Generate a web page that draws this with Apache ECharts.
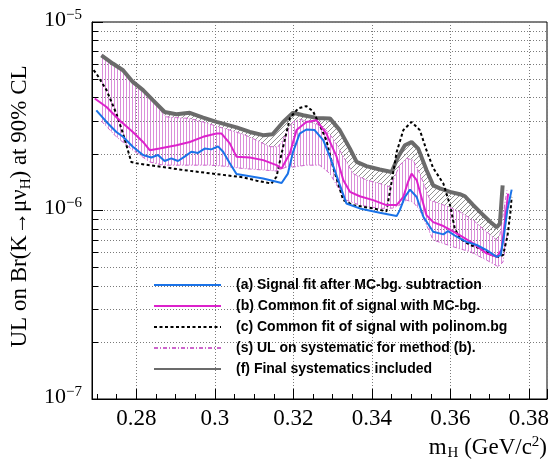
<!DOCTYPE html>
<html>
<head>
<meta charset="utf-8">
<script src="https://cdn.jsdelivr.net/npm/echarts@6/dist/echarts.min.js"></script>
<style>
  html, body { margin: 0; padding: 0; background: #fff; }
  #chart { width: 552px; height: 463px; }
</style>
</head>
<body>
<div id="chart"></div>
<script>
// Upper limits are stored in units of 1e-6.
const UNIT = 1e-6;

// (a) signal fit after MC-bg. subtraction
const aX = [0.2698,0.2724,0.2749,0.2766,0.2791,0.2817,0.2838,0.2855,0.2872,0.2889,0.2906,0.2923,0.2940,0.2957,0.2974,0.2991,0.3008,0.3021,0.3038,0.3055,0.3089,0.3123,0.3170,0.3186,0.3199,0.3216,0.3233,0.3254,0.3276,0.3293,0.3314,0.3335,0.3369,0.3420,0.3463,0.3471,0.3484,0.3497,0.3514,0.3531,0.3556,0.3582,0.3594,0.3616,0.3641,0.3667,0.3692,0.3718,0.3728,0.3736,0.3745,0.3756];
const aY = [3.40,2.95,2.61,2.46,2.18,1.97,1.91,1.97,1.83,1.89,1.83,1.93,2.05,2.02,2.13,2.11,2.19,2.05,1.78,1.56,1.52,1.48,1.40,1.57,2.04,2.56,2.69,2.67,2.36,1.93,1.45,1.09,1.026,0.972,0.934,1.005,1.18,1.29,1.18,0.927,0.771,0.747,0.778,0.726,0.682,0.656,0.617,0.568,0.580,0.726,1.005,1.29];

// (b) common fit of signal with MC-bg.
const bX = [0.2694,0.2724,0.2757,0.2791,0.2817,0.2834,0.2859,0.2902,0.2936,0.2970,0.3004,0.3017,0.3038,0.3055,0.3089,0.3123,0.3157,0.3170,0.3191,0.3208,0.3233,0.3259,0.3284,0.3310,0.3327,0.3344,0.3369,0.3403,0.3437,0.3463,0.3480,0.3492,0.3501,0.3514,0.3526,0.3539,0.3556,0.3582,0.3616,0.3658,0.3692,0.3718,0.3730,0.3739,0.3747];
const bY = [3.93,3.54,3.01,2.61,2.31,2.09,2.13,2.22,2.31,2.46,2.56,2.56,2.27,1.93,1.91,1.85,1.74,1.67,2.01,2.67,2.95,3.01,2.56,1.93,1.45,1.256,1.19,1.135,1.068,1.068,1.18,1.42,1.57,1.45,1.18,0.945,0.868,0.827,0.756,0.669,0.592,0.568,0.617,0.889,1.23];

// (c) common fit of signal with polynomial background
const cX = [0.2691,0.2698,0.2724,0.2749,0.2766,0.2787,0.2800,0.2851,0.2919,0.3004,0.3072,0.3106,0.3144,0.3157,0.3170,0.3191,0.3212,0.3233,0.3250,0.3267,0.3284,0.3301,0.3327,0.3352,0.3403,0.3437,0.3450,0.3463,0.3480,0.3501,0.3522,0.3539,0.3556,0.3582,0.3599,0.3611,0.3624,0.3650,0.3675,0.3705,0.3722,0.3734,0.3745,0.3753,0.3756];
const cY = [5.55,5.33,4.35,3.27,2.56,1.81,1.78,1.72,1.64,1.56,1.50,1.44,1.39,1.51,2.01,3.09,3.48,3.58,3.36,2.84,2.36,1.70,1.135,1.068,1.026,0.990,1.41,2.04,2.67,2.95,2.67,2.09,1.68,1.39,1.068,0.804,0.711,0.656,0.630,0.580,0.568,0.580,0.726,0.984,1.18];

// (s) systematic band for method (b): upper and lower edges
const sUpX = [0.2711,0.2740,0.2766,0.2791,0.2817,0.2842,0.2867,0.2876,0.2902,0.2936,0.2970,0.3004,0.3038,0.3072,0.3106,0.3140,0.3161,0.3173,0.3182,0.3199,0.3216,0.3242,0.3276,0.3301,0.3318,0.3335,0.3352,0.3386,0.3420,0.3446,0.3458,0.3471,0.3488,0.3505,0.3522,0.3548,0.3590,0.3624,0.3658,0.3692,0.3718,0.3726,0.3734,0.3744];
const sUpY = [6.66,6.02,5.55,4.81,4.35,3.85,3.28,3.14,3.11,3.08,2.95,2.80,2.67,2.54,2.36,2.18,2.18,2.36,2.61,2.95,3.05,2.95,2.78,2.41,2.09,1.81,1.57,1.45,1.39,1.335,1.51,1.74,1.89,1.85,1.57,1.135,1.055,0.984,0.889,0.771,0.697,0.741,0.945,1.28];
const sLoX = [0.2711,0.2749,0.2791,0.2834,0.2868,0.2936,0.2987,0.3021,0.3072,0.3123,0.3157,0.3182,0.3199,0.3233,0.3267,0.3293,0.3318,0.3335,0.3369,0.3420,0.3453,0.3471,0.3488,0.3505,0.3522,0.3556,0.3607,0.3650,0.3692,0.3722,0.3734,0.3744];
const sLoY = [2.98,2.46,2.09,1.81,1.74,1.74,1.74,1.72,1.67,1.64,1.62,1.70,1.70,1.74,1.74,1.57,1.28,1.135,1.068,1.026,1.03,1.068,1.135,1.108,1.005,0.697,0.642,0.604,0.546,0.503,0.533,0.741];

// (f) final limit with systematics included
const fX = [0.2711,0.2740,0.2766,0.2791,0.2817,0.2842,0.2872,0.2902,0.2936,0.2970,0.3004,0.3055,0.3089,0.3123,0.3147,0.3174,0.3199,0.3225,0.3259,0.3293,0.3318,0.3344,0.3361,0.3386,0.3420,0.3450,0.3467,0.3484,0.3501,0.3518,0.3539,0.3556,0.3573,0.3599,0.3624,0.3637,0.3658,0.3679,0.3701,0.3718,0.3726,0.3733];
const fY = [6.66,6.02,5.55,4.81,4.35,3.85,3.33,3.24,3.30,3.11,2.95,2.76,2.61,2.51,2.54,2.95,3.30,3.20,3.10,3.08,2.67,2.13,1.81,1.72,1.65,1.60,1.93,2.22,2.31,2.13,1.64,1.36,1.31,1.256,1.22,1.19,1.068,0.965,0.871,0.814,0.854,1.36];

// log-axis sub-decade grid values
const yMinorTicks = [2e-7,3e-7,4e-7,5e-7,6e-7,7e-7,8e-7,9e-7,2e-6,3e-6,4e-6,5e-6,6e-6,7e-6,8e-6,9e-6];

const X_MIN = 0.2687, X_MAX = 0.3846;
const HATCH_END = 0.3726;

const NAMES = {
  a: '(a) Signal fit after MC-bg. subtraction',
  b: '(b) Common fit of signal with MC-bg.',
  c: '(c) Common fit of signal with polinom.bg',
  s: '(s) UL on systematic for method (b).',
  f: '(f) Final systematics included'
};

function pairs(xs, ys) { return xs.map((x, i) => [x, ys[i] * UNIT]); }

function verticalHatch() {
  const c = document.createElement('canvas');
  c.width = 3; c.height = 6;
  const g = c.getContext('2d');
  g.fillStyle = 'rgba(196,72,196,0.62)';
  g.fillRect(0, 0, 1, 6);
  return c;
}
function diagonalHatch() {
  const c = document.createElement('canvas');
  c.width = 5; c.height = 5;
  const g = c.getContext('2d');
  g.strokeStyle = 'rgba(95,95,95,0.85)';
  g.lineWidth = 0.8;
  g.beginPath();
  g.moveTo(-1, 6); g.lineTo(6, -1);
  g.moveTo(-1, 1); g.lineTo(1, -1);
  g.moveTo(4, 6); g.lineTo(6, 4);
  g.stroke();
  return c;
}

// filled region between an upper and a lower edge
function bandSeries(upX, upY, loX, loY, fill, z) {
  return {
    type: 'custom', coordinateSystem: 'cartesian2d', silent: true, z,
    data: [[upX[0], upY[0] * UNIT]], encode: { x: 0, y: 1 },
    renderItem(params, api) {
      const pts = [];
      upX.forEach((x, i) => pts.push(api.coord([x, upY[i] * UNIT])));
      for (let i = loX.length - 1; i >= 0; i--) pts.push(api.coord([loX[i], loY[i] * UNIT]));
      return { type: 'polygon', shape: { points: pts }, style: { fill, stroke: null } };
    }
  };
}

function upTo(xs, ys, xEnd) {
  const ox = [], oy = [];
  xs.forEach((x, i) => { if (x <= xEnd + 1e-9) { ox.push(x); oy.push(ys[i]); } });
  return [ox, oy];
}

const [gUpX, gUpY] = upTo(fX, fY, HATCH_END);
const [gLoX, gLoY] = upTo(sUpX, sUpY, HATCH_END);

const serif = 'Liberation Serif, Times New Roman, serif';
const sans = 'Liberation Sans, Arial, Helvetica, sans-serif';

const chart = echarts.init(document.getElementById('chart'), null, { renderer: 'canvas' });

chart.setOption({
  backgroundColor: '#fff',
  animation: false,
  grid: {
    left: 92, top: 22, width: 455, height: 377,
    show: true, borderColor: '#000', borderWidth: 1, backgroundColor: 'transparent',
    containLabel: false, outerBoundsMode: 'none'
  },
  legend: {
    orient: 'vertical', left: 153, top: 278, padding: 0,
    itemWidth: 67, itemHeight: 14, itemGap: 7,
    selectedMode: false,
    itemStyle: { opacity: 0 },
    data: [NAMES.a, NAMES.b, NAMES.c, NAMES.s, NAMES.f],
    textStyle: { fontFamily: sans, fontWeight: 'bold', fontSize: 14, color: '#000', padding: [0, 0, 0, 10] }
  },
  xAxis: {
    type: 'value', min: X_MIN, max: X_MAX, splitNumber: 5,
    axisLine: { show: true, onZero: false, lineStyle: { color: '#000', width: 1 } },
    axisTick: { show: true, inside: true, length: 10, lineStyle: { color: '#000', width: 1 } },
    minorTick: { show: true, splitNumber: 4, length: 5, lineStyle: { color: '#000', width: 1 } },
    axisLabel: {
      showMinLabel: false, showMaxLabel: false, margin: 8,
      fontFamily: serif, fontSize: 23, color: '#000'
    },
    splitLine: { show: true, lineStyle: { color: '#7a7a7a', width: 1, type: [1, 2] } },
    name: '{t|m}{sub|H}{t| (GeV/c}{sup|2}{t|)}',
    nameLocation: 'end', nameGap: 0,
    nameTextStyle: {
      align: 'right', verticalAlign: 'top', padding: [35, 0, 0, 0],
      rich: {
        t: { fontFamily: serif, fontSize: 23, color: '#000' },
        sub: { fontFamily: serif, fontSize: 15, color: '#000', padding: [12, 0, 0, 1] },
        sup: { fontFamily: serif, fontSize: 15, color: '#000', padding: [0, 0, 10, 0] }
      }
    }
  },
  yAxis: {
    type: 'log', logBase: 10, min: 1e-7, max: 1e-5,
    axisLine: { show: true, onZero: false, lineStyle: { color: '#000', width: 1 } },
    axisTick: { show: true, inside: true, length: 11, lineStyle: { color: '#000', width: 1 } },
    axisLabel: {
      margin: 10,
      formatter: v => '{b|10}{s|\u2212' + (-Math.round(Math.log10(v))) + '}',
      rich: {
        b: { fontFamily: serif, fontSize: 22, color: '#000', padding: [0, 0, 4, 0] },
        s: { fontFamily: serif, fontSize: 15, color: '#000', padding: [0, 0, 14, 0] }
      }
    },
    splitLine: { show: true, lineStyle: { color: '#7a7a7a', width: 1, type: [1, 2] } },
    name: '{t|UL on Br(K\u2192\u03bc\u03bd}{sub|H}{t|) at 90% CL}',
    nameLocation: 'middle', nameRotate: 90, nameGap: 49,
    nameTextStyle: {
      padding: [0, 0, 0, 8],
      rich: {
        t: { fontFamily: serif, fontSize: 23, color: '#000' },
        sub: { fontFamily: serif, fontSize: 15, color: '#000', padding: [11, 0, 0, 0] }
      }
    }
  },
  series: [
    {
      // sub-decade grid lines and ticks of the log axis
      type: 'custom', coordinateSystem: 'cartesian2d', silent: true, z: 1,
      data: yMinorTicks.map(v => [X_MIN, v]), encode: { x: 0, y: 1 },
      renderItem(params, api) {
        const cs = params.coordSys;
        const y = Math.round(api.coord([X_MIN, api.value(1)])[1]) + 0.5;
        return {
          type: 'group', children: [
            { type: 'line', shape: { x1: cs.x, y1: y, x2: cs.x + cs.width, y2: y },
              style: { stroke: '#7a7a7a', lineWidth: 1, lineDash: [1, 2] } },
            { type: 'line', shape: { x1: cs.x, y1: y, x2: cs.x + 6, y2: y },
              style: { stroke: '#000', lineWidth: 1 } }
          ]
        };
      }
    },
    bandSeries(sUpX, sUpY, sLoX, sLoY, { image: verticalHatch(), repeat: 'repeat' }, 2),
    bandSeries(gUpX, gUpY, gLoX, gLoY, { image: diagonalHatch(), repeat: 'repeat' }, 2),
    {
      name: NAMES.s, type: 'line', symbol: 'none', z: 3, silent: true,
      data: pairs(sUpX, sUpY),
      lineStyle: { color: '#cc66cc', width: 1, type: [4, 2, 1, 2] }
    },
    {
      name: 's-lower', type: 'line', symbol: 'none', z: 3, silent: true,
      data: pairs(sLoX, sLoY),
      lineStyle: { color: '#cc66cc', width: 1, type: [4, 2, 1, 2] }
    },
    {
      name: NAMES.f, type: 'line', symbol: 'none', z: 4, silent: true,
      data: pairs(fX, fY),
      lineStyle: { color: '#6b6b6b', width: 4 }
    },
    {
      name: NAMES.c, type: 'line', symbol: 'none', z: 5, silent: true,
      data: pairs(cX, cY),
      lineStyle: { color: '#000', width: 2, type: [3, 2.5] }
    },
    {
      name: NAMES.b, type: 'line', symbol: 'none', z: 6, silent: true,
      data: pairs(bX, bY),
      lineStyle: { color: '#dd22cc', width: 2 }
    },
    {
      name: NAMES.a, type: 'line', symbol: 'none', z: 7, silent: true,
      data: pairs(aX, aY),
      lineStyle: { color: '#1a73e8', width: 2 }
    }
  ]
});
</script>
</body>
</html>
